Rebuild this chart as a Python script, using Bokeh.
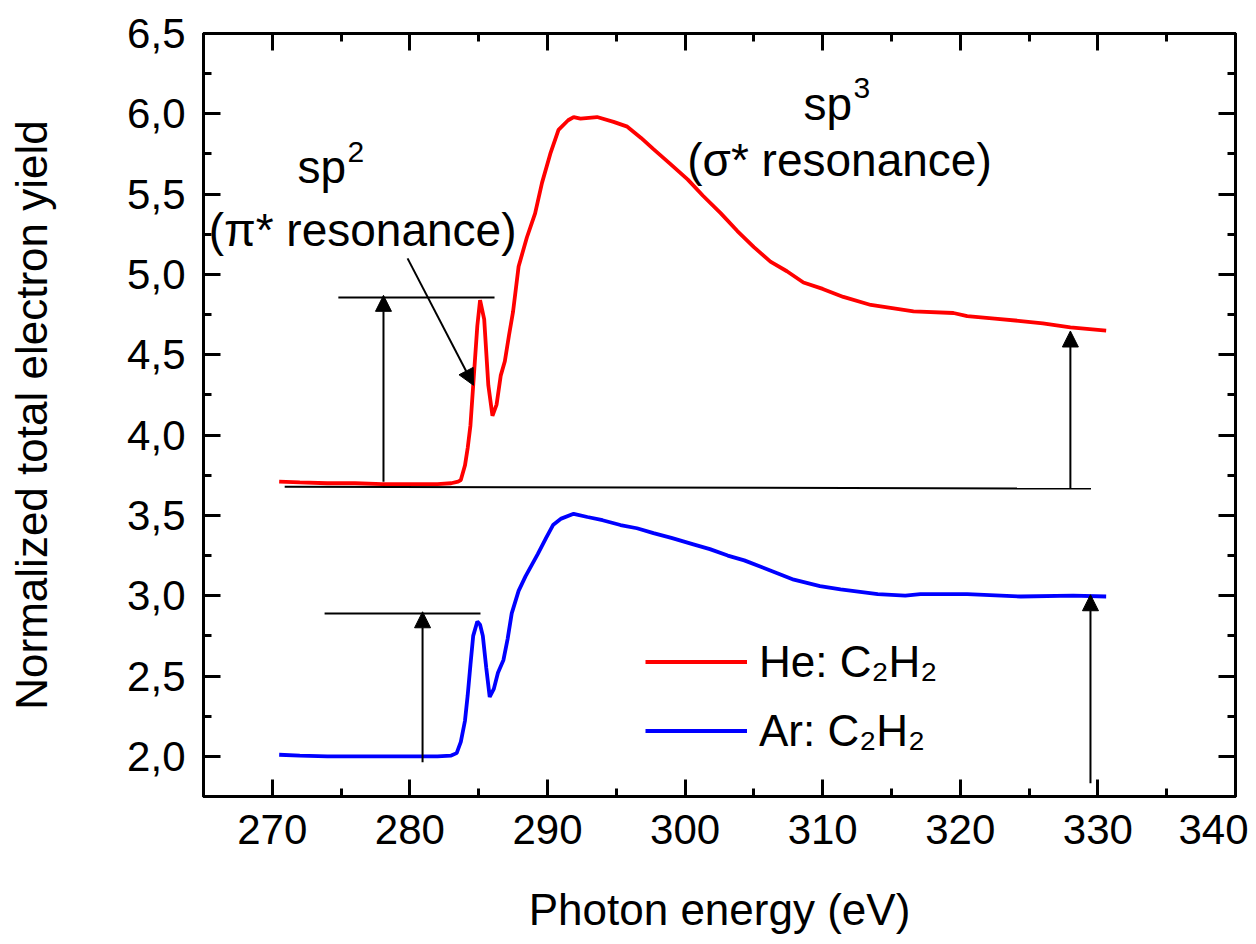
from bokeh.plotting import figure
from bokeh.models import (Range1d, LinearAxis, SingleIntervalTicker,
                          Legend, LegendItem, Label, Arrow, NormalHead)
from bokeh.embed import file_html
from bokeh.resources import INLINE

FONT = "Liberation Sans"

# ---- data ----
energy_he = [270.5, 272, 274, 276, 278, 280, 282, 283.0, 283.5, 283.7, 284.0, 284.2, 284.4,
             284.6, 284.9, 285.1, 285.4, 285.7, 286.0, 286.3, 286.6, 286.9, 287.2, 287.5,
             287.9, 288.5, 289.1, 289.6, 290.2, 290.8, 291.5, 291.9, 292.4, 293.6, 294.8,
             295.8, 296.8, 297.7, 298.9, 300.2, 301.3, 302.6, 303.8, 305.0, 306.2, 307.4,
             308.6, 310.0, 311.5, 313.5, 316.6, 319.5, 320.5, 322.5, 324.4, 326.0, 328.0, 330.6]
yield_he = [3.71, 3.705, 3.70, 3.70, 3.695, 3.695, 3.695, 3.70, 3.71, 3.72, 3.81, 3.92, 4.06,
            4.31, 4.68, 4.84, 4.72, 4.31, 4.12, 4.19, 4.37, 4.46, 4.62, 4.77,
            5.05, 5.23, 5.38, 5.57, 5.75, 5.90, 5.96, 5.98, 5.97, 5.98, 5.95,
            5.92, 5.85, 5.78, 5.69, 5.59, 5.49, 5.38, 5.27, 5.17, 5.08, 5.02,
            4.95, 4.91, 4.86, 4.81, 4.77, 4.76, 4.74, 4.725, 4.71, 4.695, 4.67, 4.65]

energy_ar = [270.5, 272, 274, 276, 278, 280, 282, 283.0, 283.4, 283.7, 284.0, 284.2, 284.4,
             284.6, 284.9, 285.1, 285.3, 285.55, 285.8, 286.1, 286.4, 286.8, 287.1, 287.4,
             287.9, 288.4, 289.3, 289.9, 290.4, 291.0, 291.9, 292.9, 294.0, 295.3, 296.5,
             297.7, 299.0, 300.6, 301.8, 303.1, 304.3, 305.5, 306.7, 307.9, 309.8, 311.3,
             314.0, 316.0, 317.1, 320.5, 324.4, 328.2, 330.6]
yield_ar = [2.01, 2.005, 2.0, 2.0, 2.0, 2.0, 2.0, 2.005, 2.02, 2.09, 2.22, 2.38, 2.57,
            2.75, 2.84, 2.82, 2.75, 2.55, 2.37, 2.42, 2.52, 2.60, 2.73, 2.89,
            3.03, 3.12, 3.26, 3.36, 3.44, 3.48, 3.51, 3.49, 3.47, 3.44, 3.42,
            3.39, 3.36, 3.32, 3.29, 3.25, 3.22, 3.18, 3.14, 3.10, 3.06, 3.04,
            3.01, 3.00, 3.01, 3.01, 2.995, 3.0, 2.995]

series_labels = ["He: C\u2082H\u2082", "Ar: C\u2082H\u2082"]
series_colors = ["#ff0000", "#0000ff"]

x_title = "Photon energy (eV)"
y_title = "Normalized total electron yield"

y_tick_values = [2.0, 2.5, 3.0, 3.5, 4.0, 4.5, 5.0, 5.5, 6.0, 6.5]
y_tick_labels = ["2,0", "2,5", "3,0", "3,5", "4,0", "4,5", "5,0", "5,5", "6,0", "6,5"]

# annotation guide lines (data units)
guide_x0 = [270.9, 274.8, 273.8]
guide_x1 = [329.5, 286.15, 285.13]
guide_y0 = [3.679, 4.856, 2.889]
guide_y1 = [3.667, 4.856, 2.889]

# annotation arrows (data units)
arrow_x0 = [278.08, 328.0, 280.92, 329.46, 279.83]
arrow_y0 = [3.71, 3.670, 1.963, 1.833, 5.10]
arrow_x1 = [278.08, 328.0, 280.92, 329.46, 284.62]
arrow_y1 = [4.87, 4.648, 2.90, 3.006, 4.31]

# annotation texts: main words and their superscripts
ann_text = ["sp", "(\u03c0* resonance)", "sp", "(\u03c3* resonance)"]
ann_x = [271.83, 276.56, 308.6, 311.22]
ann_y = [5.667, 5.278, 6.062, 5.71]
ann_align = ["left", "center", "left", "center"]
sup_text = ["2", "3"]
sup_x = [271.83, 308.6]
sup_y = [5.76, 6.16]

# ---- figure ----
p = figure(width=1248, height=936, x_range=Range1d(265, 340), y_range=Range1d(1.75, 6.5),
           output_backend="svg", toolbar_location=None,
           min_border_left=203, min_border_right=13, min_border_top=33, min_border_bottom=134,
           x_axis_label=x_title, y_axis_label=y_title)
p.grid.visible = False
p.outline_line_color = "black"
p.outline_line_width = 3
p.background_fill_color = "white"
p.border_fill_color = "white"

xt = SingleIntervalTicker(interval=10, num_minor_ticks=2)
yt = SingleIntervalTicker(interval=0.5, num_minor_ticks=2)

def style(ax):
    ax.axis_line_width = 3
    ax.major_tick_line_width = 3
    ax.minor_tick_line_width = 3
    ax.major_tick_in = 17
    ax.major_tick_out = 0
    ax.minor_tick_in = 8
    ax.minor_tick_out = 0
    ax.major_label_text_font = FONT
    ax.major_label_text_font_size = "42px"
    ax.major_label_text_color = "black"
    ax.axis_label_text_font = FONT
    ax.axis_label_text_font_size = "44px"
    ax.axis_label_text_font_style = "normal"
    ax.axis_label_text_color = "black"

xa = p.xaxis[0]
xa.ticker = xt
style(xa)
xa.major_label_standoff = 18
xa.axis_label_standoff = 38

ya = p.yaxis[0]
ya.ticker = yt
style(ya)
ya.major_label_overrides = {v: s for v, s in zip(y_tick_values, y_tick_labels)}
ya.major_label_standoff = 18
ya.axis_label_standoff = 68

top = LinearAxis(ticker=xt)
style(top)
top.major_label_text_font_size = "1px"
top.major_label_text_color = None
top.major_label_standoff = 0
p.add_layout(top, "above")

right = LinearAxis(ticker=yt)
style(right)
right.major_label_text_font_size = "1px"
right.major_label_text_color = None
right.major_label_standoff = 0
p.add_layout(right, "right")

# curves
r_he = p.line(energy_he, yield_he, line_color=series_colors[0], line_width=3.8)
r_ar = p.line(energy_ar, yield_ar, line_color=series_colors[1], line_width=3.8)

# guide lines
p.segment(x0=guide_x0, y0=guide_y0, x1=guide_x1, y1=guide_y1, line_color="black", line_width=2)

# arrows
for x0, y0, x1, y1 in zip(arrow_x0, arrow_y0, arrow_x1, arrow_y1):
    p.add_layout(Arrow(end=NormalHead(size=16, fill_color="black", line_color="black", line_width=1),
                       x_start=x0, y_start=y0, x_end=x1, y_end=y1,
                       line_color="black", line_width=2))

# texts
for t, x, y, a in zip(ann_text, ann_x, ann_y, ann_align):
    p.add_layout(Label(x=x, y=y, text=t, text_font=FONT, text_font_size="46px",
                       text_align=a, text_baseline="alphabetic", text_color="black"))
for t, x, y in zip(sup_text, sup_x, sup_y):
    p.add_layout(Label(x=x, y=y, x_offset=50, text=t, text_font=FONT, text_font_size="30px",
                       text_align="left", text_baseline="alphabetic", text_color="black"))

legend = Legend(items=[LegendItem(label=series_labels[0], renderers=[r_he]),
                       LegendItem(label=series_labels[1], renderers=[r_ar])],
                location=(442, 31), orientation="vertical",
                border_line_color=None, background_fill_alpha=0,
                label_text_font=FONT, label_text_font_size="44px", label_text_color="black",
                glyph_width=102, glyph_height=69, label_height=69,
                spacing=0, padding=0, margin=0, label_standoff=12)
p.add_layout(legend, "center")

open("out.html", "w").write(file_html(p, INLINE))
